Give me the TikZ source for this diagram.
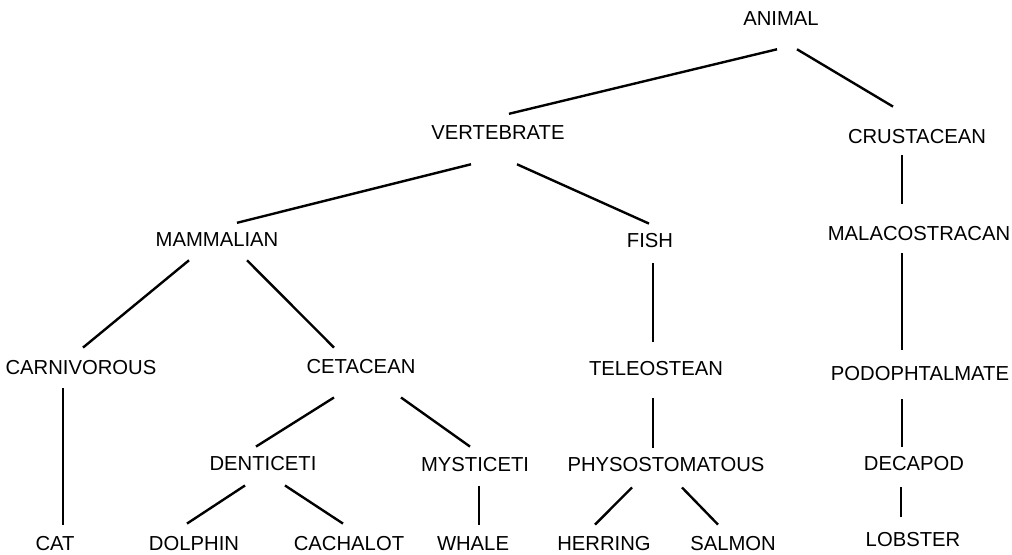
\documentclass[tikz,border=0pt]{standalone}
\usepackage{fontspec}
\setmainfont{Liberation Sans}
\usetikzlibrary{calc}

\begin{document}
\begin{tikzpicture}[x=0.025cm,y=-0.025cm,
    taxon/.style={anchor=base,inner sep=0pt,font=\fontsize{14.4}{17}\selectfont},
    branch/.style={line width=1.7pt},
    stem/.style={line width=1.3pt}]
    \useasboundingbox (0,0) rectangle (1012,554);
    %root
    \node[taxon] (animal) at (781,25){ANIMAL};
    %second level
    \node[taxon] (vert) at (498,139){VERTEBRATE};
    \node[taxon] (crust) at (917,143){CRUSTACEAN};
    %third level
    \node[taxon] (mamm) at (217,246){MAMMALIAN};
    \node[taxon] (fish) at (650,247){FISH};
    \node[taxon] (mala) at (919,240){MALACOSTRACAN};
    %fourth level
    \node[taxon] (carn) at (81,374){CARNIVOROUS};
    \node[taxon] (cet) at (361,373){CETACEAN};
    \node[taxon] (teleo) at (656,375){TELEOSTEAN};
    \node[taxon] (podo) at (920,380){PODOPHTALMATE};
    %fifth level
    \node[taxon] (dent) at (263,470){DENTICETI};
    \node[taxon] (myst) at (475,471){MYSTICETI};
    \node[taxon] (phys) at (666,471){PHYSOSTOMATOUS};
    \node[taxon] (deca) at (914,470){DECAPOD};
    %leaves
    \node[taxon] (cat) at (55,550){CAT};
    \node[taxon] (dolphin) at (194,550){DOLPHIN};
    \node[taxon] (cach) at (349,550){CACHALOT};
    \node[taxon] (whale) at (473,550){WHALE};
    \node[taxon] (herr) at (604,550){HERRING};
    \node[taxon] (salmon) at (733,550){SALMON};
    \node[taxon] (lobster) at (913,546){LOBSTER};

    %animal
    \draw[branch] ($(animal.south)+(-4,24)$) -- ($(vert.north)+(11,-11)$);
    \draw[branch] ($(animal.south)+(16,24)$) -- ($(crust.north)+(-24,-22)$);
    %vertebrate
    \draw[branch] ($(vert.south)+(-27,25)$) -- ($(mamm.north)+(20,-9)$);
    \draw[branch] ($(vert.south)+(19,25)$) -- ($(fish.north)+(-1,-9)$);
    %crustacean
    \draw[stem] ($(crust.south)+(-15,12)$) -- ($(mala.north)+(-17,-22)$);
    \draw[stem] ($(mala.south)+(-17,13)$) -- ($(podo.north)+(-18,-16)$);
    \draw[stem] ($(podo.south)+(-18,19)$) -- ($(deca.north)+(-12,-9)$);
    \draw[stem] ($(deca.south)+(-13,17)$) -- ($(lobster.north)+(-12,-15)$);
    %mammalian
    \draw[branch] ($(mamm.south)+(-28,14)$) -- ($(carn.north)+(2,-12)$);
    \draw[branch] ($(mamm.south)+(30,14)$) -- ($(cet.north)+(-27,-11)$);
    \draw[stem] ($(carn.south)+(-18,14)$) -- ($(cat.north)+(8,-11)$);
    %cetacean
    \draw[branch] ($(cet.south)+(-27,24)$) -- ($(dent.north)+(-7,-9)$);
    \draw[branch] ($(cet.south)+(40,24)$) -- ($(myst.north)+(-5,-10)$);
    \draw[branch] ($(dent.south)+(-18,15)$) -- ($(dolphin.north)+(-7,-12)$);
    \draw[branch] ($(dent.south)+(22,15)$) -- ($(cach.north)+(-6,-12)$);
    \draw[stem] ($(myst.south)+(4,15)$) -- ($(whale.north)+(6,-11)$);
    %fish
    \draw[stem] ($(fish.south)+(3,16)$) -- ($(teleo.north)+(-3,-19)$);
    \draw[stem] ($(teleo.south)+(-3,23)$) -- ($(phys.north)+(-13,-9)$);
    \draw[branch] ($(phys.south)+(-34,16)$) -- ($(herr.north)+(-9,-11)$);
    \draw[branch] ($(phys.south)+(16,16)$) -- ($(salmon.north)+(-15,-11)$);
\end{tikzpicture}
\end{document}
